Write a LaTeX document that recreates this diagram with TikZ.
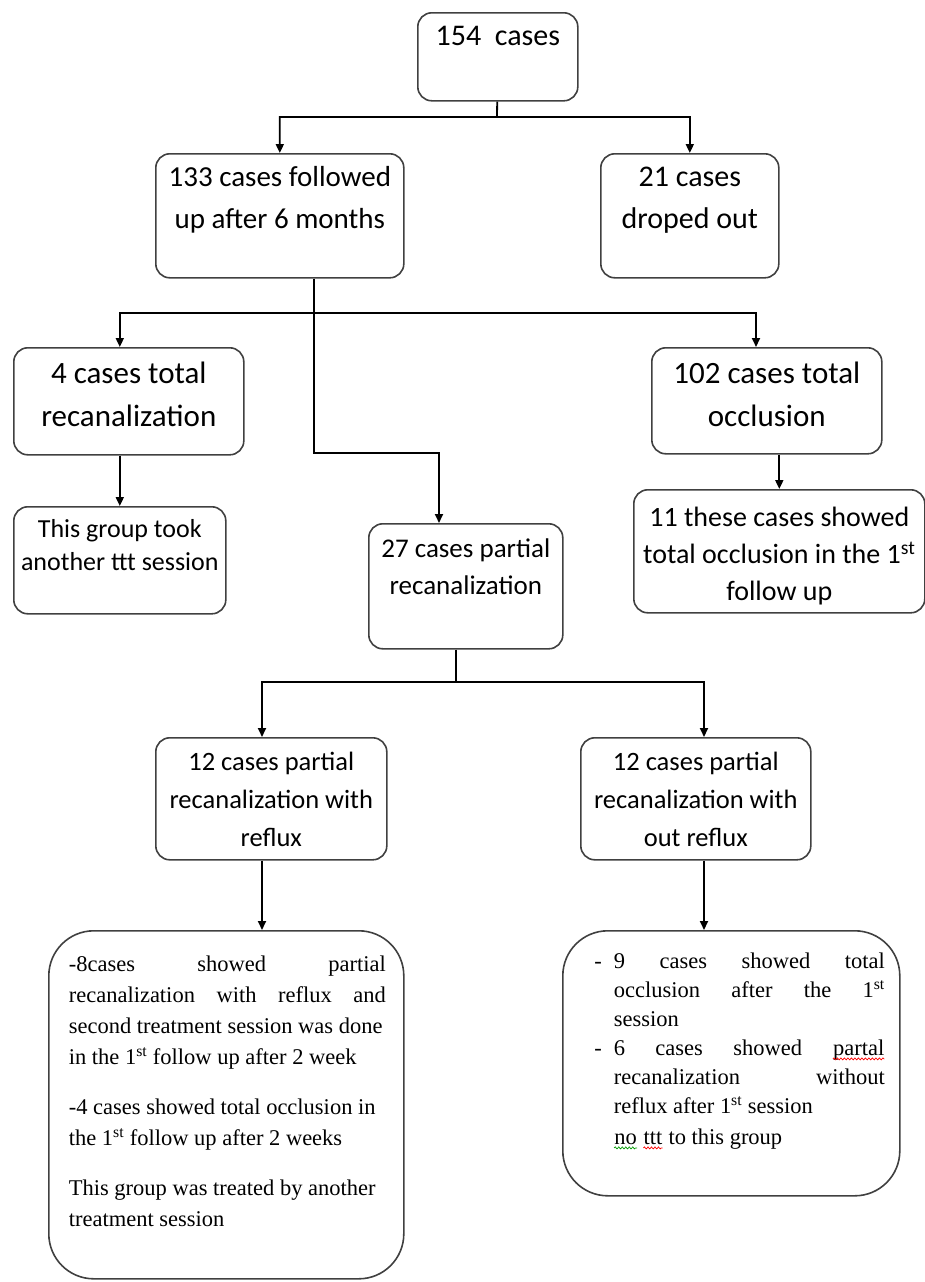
\documentclass[tikz,border=0pt]{standalone}
\usepackage{fontspec}
\setmainfont{Liberation Serif}
\newfontfamily\calibri{Carlito}
\usetikzlibrary{arrows.meta,decorations.pathmorphing}

% text block of a box: width, height, top padding, text
\newcommand{\cell}[4]{\parbox[c][#2][t]{#1}{\vspace*{#3}#4}}
% spell-check wave under a word
\newcommand{\wavy}[2]{\tikz[baseline=(w.base), x=1pt, y=1pt, sharp corners]{\node[inner sep=0pt, draw=none] (w) {#2};
	\draw[#1, line width=0.7pt, decorate, decoration={snake, amplitude=1pt, segment length=3.5pt}] ([yshift=-3.5pt]w.base west) -- ([yshift=-3.5pt]w.base east);}}

\begin{document}
\begin{tikzpicture}[x=1pt,y=-1pt]
		\tikzset{box/.style = {draw=black!75, line width=1.6pt, rounded corners=14pt, inner sep=0pt, anchor=north west}}
		\tikzset{bigbox/.style = {box, rounded corners=45pt}}
		\tikzset{edge/.style = {-{Triangle[length=9pt,width=8pt]}, line width=1.8pt}}

		\useasboundingbox (0,0) rectangle (925,1282);

		\node[box, font=\calibri\fontsize{30}{42}\selectfont]   (1) at (417,  12) {\cell{160pt}{88pt}{13pt}{\centering 154\ \ cases}};
		\node[box, font=\calibri\fontsize{29}{42}\selectfont]   (2) at (155, 153) {\cell{248pt}{124pt}{13pt}{\centering 133 cases followed\\ up after 6 months}};
		\node[box, font=\calibri\fontsize{30}{42}\selectfont]   (3) at (600, 153) {\cell{178pt}{124pt}{13pt}{\centering 21 cases\\ droped out}};
		\node[box, font=\calibri\fontsize{31}{43}\selectfont]   (4) at ( 13, 347) {\cell{230pt}{107pt}{14pt}{\centering 4 cases total\\ recanalization}};
		\node[box, font=\calibri\fontsize{31}{43}\selectfont]   (5) at (651, 347) {\cell{230pt}{106pt}{14pt}{\centering 102 cases total\\ occlusion}};
		\node[box, font=\calibri\fontsize{26}{33}\selectfont]   (6) at ( 13, 506) {\cell{212pt}{107pt}{13pt}{\centering This group took\\ another ttt session}};
		\node[box, font=\calibri\fontsize{27}{37}\selectfont]   (7) at (368, 523) {\cell{194pt}{125pt}{15pt}{\centering 27 cases partial\\ recanalization}};
		\node[box, font=\calibri\fontsize{28}{37}\selectfont]   (8) at (633, 489) {\cell{291pt}{123pt}{17pt}{\centering 11 these cases showed\\ total occlusion in the 1\textsuperscript{st}\\ follow up}};
		\node[box, font=\calibri\fontsize{26.5}{38}\selectfont] (9) at (155, 737) {\cell{231pt}{122pt}{14pt}{\centering 12 cases partial\\ recanalization with\\ reflux}};
		\node[box, font=\calibri\fontsize{26.5}{38}\selectfont] (10) at (580, 737) {\cell{230pt}{122pt}{14pt}{\centering 12 cases partial\\ recanalization with\\ out reflux}};

		\node[bigbox, font=\fontsize{22.5}{31}\selectfont] (11) at (48, 930) {\cell{355pt}{348pt}{25pt}{\leftskip=20pt\rightskip=18pt
			-8cases\hfill showed\hfill partial\\
			recanalization\hfill with\hfill reflux\hfill and\\
			second treatment session was done\\
			in the 1\textsuperscript{st} follow up after 2 week\\[19pt]
			-4 cases showed total occlusion in\\
			the 1\textsuperscript{st} follow up after 2 weeks\\[19pt]
			This group was treated by another\\
			treatment session}};
		\node[bigbox, font=\fontsize{22.5}{29}\selectfont] (12) at (562, 930) {\cell{337pt}{265pt}{22pt}{\leftskip=51pt\rightskip=15pt
			\leavevmode\llap{-\hspace{12pt}}9\hfill cases\hfill showed\hfill total\\
			occlusion\hfill after\hfill the\hfill 1\textsuperscript{st}\\
			session\\
			\llap{-\hspace{12pt}}6\hfill cases\hfill showed\hfill \wavy{red}{partal}\\
			recanalization\hfill without\\
			reflux after 1\textsuperscript{st} session\\[2pt]
			\wavy{green!60!black}{no} \wavy{red}{ttt} to this group}};

		\coordinate (j1) at (497, 117);
		\coordinate (j2) at (314, 313);
		\coordinate (j3) at (756, 313);
		\coordinate (j4) at (439, 453);
		\coordinate (j5) at (456, 682);
		\coordinate (a9) at (262, 682);
		\coordinate (a10) at (704, 682);

		\draw[edge] (1) -- (j1) -| (2);
		\draw[edge] (j1) -| (3);
		\draw[line width=1.8pt] (2.south -| j2) -- (j2);
		\draw[edge] (j2) -| (4.north -| 6.north);
		\draw[edge] (j2) -- (j3) -- (5.north -| j3);
		\draw[edge] (j2) |- (j4) -- (7.north -| j4);
		\draw[edge] (4.south -| 6.north) -- (6.north);
		\draw[edge] (5.south -| 8.north) -- (8.north);
		\draw[line width=1.8pt] (7.south -| j5) -- (j5);
		\draw[edge] (j5) -| (a9 |- 9.north);
		\draw[edge] (j5) -| (a10 |- 10.north);
		\draw[edge] (9.south -| a9) -- (11.north -| a9);
		\draw[edge] (10.south -| a10) -- (12.north -| a10);
\end{tikzpicture}
\end{document}
